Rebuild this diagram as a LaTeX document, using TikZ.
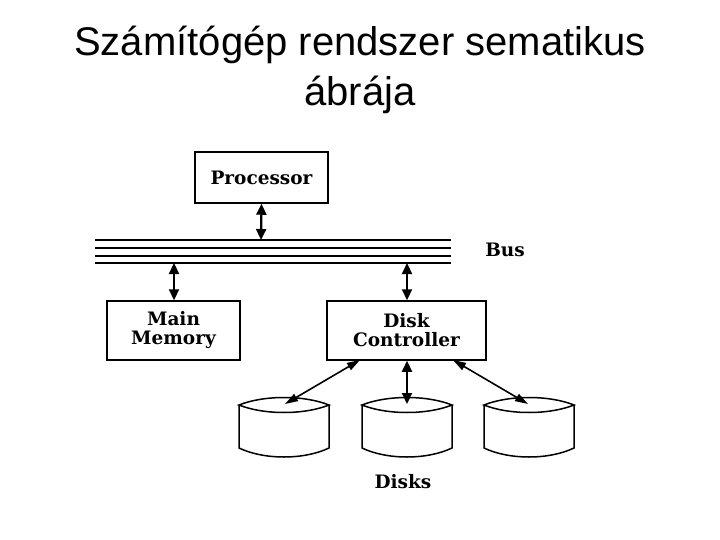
\documentclass[tikz,border=0pt]{standalone}
\usepackage{fontspec}
\setmainfont{Liberation Sans}
\newfontfamily\diagfont{DejaVu Serif}
\usetikzlibrary{arrows.meta}
\tikzset{
  box/.style={draw, line width=1.5pt, rectangle, inner sep=0pt, align=center,
    font=\diagfont\bfseries\fontsize{18.5}{19}\selectfont},
  lbl/.style={font=\diagfont\bfseries\fontsize{18.5}{19}\selectfont, inner sep=0pt},
  busline/.style={line width=1.4pt},
  varrow/.style={line width=2.2pt, {Triangle[length=11pt,width=10pt]}-{Triangle[length=11pt,width=10pt]}},
  darrow/.style={line width=1.6pt, {Triangle[length=13pt,width=8pt]}-{Triangle[length=13pt,width=8pt]}},
  diskline/.style={line width=1.5pt},
  pics/disk/.style={code={
    \draw[diskline] (-45,8) .. controls (-20,-2) and (20,-2) .. (45,8)
      .. controls (20,18) and (-20,18) .. (-45,8) -- cycle;
    \draw[diskline] (-45,8) -- (-45,51) .. controls (-20,63) and (20,63) .. (45,51) -- (45,8);
  }}
}
\begin{document}
\begin{tikzpicture}[x=1pt,y=-1pt]
\useasboundingbox (0,0) rectangle (720,540);
% title
\node[font=\fontsize{40}{50}\selectfont, align=center, inner sep=0pt] (title) at (360,70)
  {Számítógép rendszer sematikus\\ábrája};
% boxes
\node[box, minimum width=133pt, minimum height=51pt] (proc) at (261.5,177.5) {Processor};
\node[box, minimum width=133pt, minimum height=59pt] (mem) at (173.5,330.5) {Main\\Memory};
\node[box, minimum width=159pt, minimum height=59pt] (ctrl) at (406.5,330.5) {Disk\\Controller};
% bus
\coordinate (busL) at (95,240);
\coordinate (busR) at (451,240);
\foreach \dy in {0,8,16,23}{
  \draw[busline] ([yshift=-\dy pt]busL) -- ([yshift=-\dy pt]busR);
}
\node[lbl] (buslbl) at (505,250) {Bus};
\coordinate (busP) at (261,240);
\coordinate (busM) at (174,263);
\coordinate (busC) at (407,263);
\draw[varrow] (proc.south) -- (busP);
\draw[varrow] (busM) -- (mem.north-|busM);
\draw[varrow] (busC) -- (ctrl.north-|busC);
% disks
\pic at (284,397) {disk};
\pic at (407,397) {disk};
\pic at (529,397) {disk};
\coordinate (d1) at (285,404);
\coordinate (d2) at (407,404);
\coordinate (d3) at (528,404);
\coordinate (c1) at (360,360);
\coordinate (c3) at (453,360);
\draw[darrow] (c1) -- (d1);
\draw[varrow] (ctrl.south-|d2) -- (d2);
\draw[darrow] (c3) -- (d3);
\node[lbl] (disks) at (403,482) {Disks};
\end{tikzpicture}
\end{document}
